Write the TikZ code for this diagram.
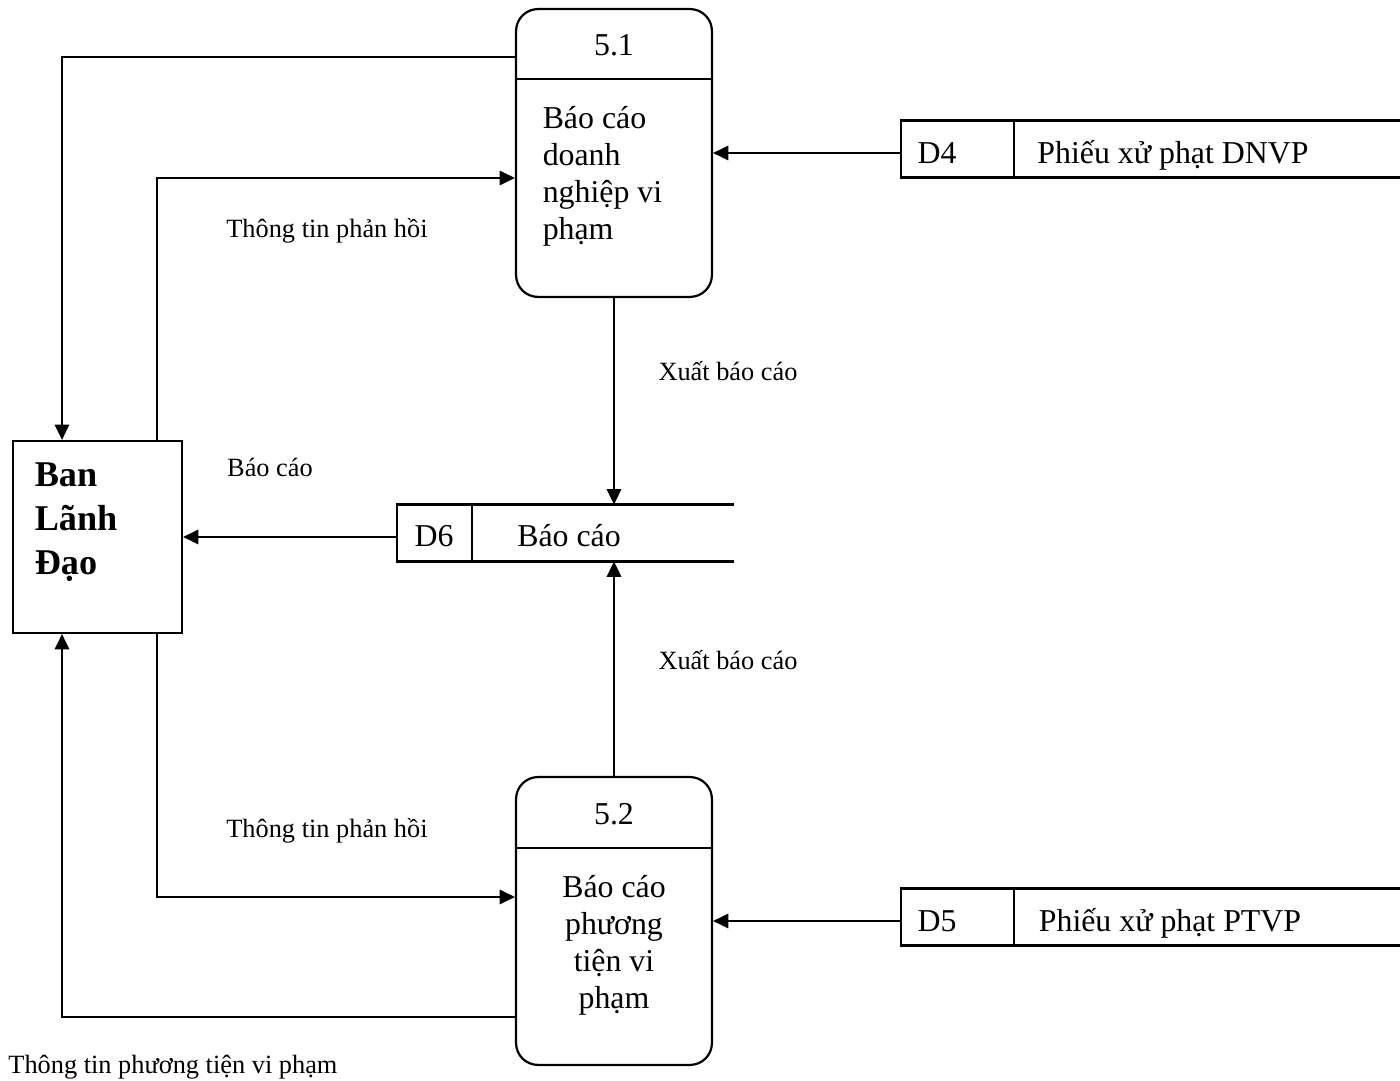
\documentclass[tikz,border=0pt]{standalone}
\usepackage{fontspec}
\setmainfont{Liberation Serif}
\usetikzlibrary{arrows.meta,calc,positioning}

\begin{document}
\begin{tikzpicture}[x=0.016cm,y=-0.016cm]
        \tikzset{
            process/.style = {rectangle, rounded corners=10pt, line width=1pt, minimum width=89.2pt, minimum height=131.1pt, draw=black},
            entity/.style = {rectangle, line width=1pt, minimum width=76.9pt, minimum height=87.4pt, draw=black},
            store/.style = {rectangle, minimum height=25.5pt, inner sep=0pt},
            line/.style = {line width=1pt},
            bodytext/.style = {font=\fontsize{14.5}{16.8}\selectfont},
            flowlabel/.style = {font=\fontsize{12}{14}\selectfont, inner sep=0pt},
            arrow/.style = {line width=1.1pt,-{Triangle[length=7pt,width=6.5pt]}}
        }
        \useasboundingbox (0,0) rectangle (1400,1081);

        % external entity
        \node (ban) [entity] at (97.5,537) {};
        \node (banText) [anchor=west, align=left, font=\fontsize{16.5}{20}\selectfont\bfseries] at (27,522) {Ban\\Lãnh\\Đạo};

        % processes
        \node (proc51) [process] at (614,153) {};
        \draw [line] ($(proc51.north west)+(0,71)$) -- ($(proc51.north east)+(0,71)$);
        \node (num51) [bodytext, anchor=base] at (614,56) {5.1};
        \node (txt51) [bodytext, anchor=west, align=left] at (535,176) {Báo cáo\\doanh\\nghiệp vi\\phạm};

        \node (proc52) [process] at (614,921) {};
        \draw [line] ($(proc52.north west)+(0,72)$) -- ($(proc52.north east)+(0,72)$);
        \node (num52) [bodytext, anchor=base] at (614,824) {5.2};
        \node (txt52) [bodytext, align=center] at (614,945) {Báo cáo\\phương\\tiện vi\\phạm};

        % data stores
        \node (d4) [store, minimum width=227.2pt] at (1150.5,149) {};
        \draw [line] (d4.north east) -- (d4.north west) -- (d4.south west) -- (d4.south east);
        \draw [line] ($(d4.north west)+(113,0)$) -- ($(d4.south west)+(113,0)$);
        \node (d4Id) [bodytext, anchor=base] at (937,164) {D4};
        \node (d4Name) [bodytext, anchor=base] at (1173,164) {Phiếu xử phạt DNVP};

        \node (d5) [store, minimum width=227.2pt] at (1150.5,917) {};
        \draw [line] (d5.north east) -- (d5.north west) -- (d5.south west) -- (d5.south east);
        \draw [line] ($(d5.north west)+(113,0)$) -- ($(d5.south west)+(113,0)$);
        \node (d5Id) [bodytext, anchor=base] at (937,931) {D5};
        \node (d5Name) [bodytext, anchor=base] at (1170,931) {Phiếu xử phạt PTVP};

        \node (d6) [store, minimum width=153.4pt] at (565.5,533) {};
        \draw [line] (d6.north east) -- (d6.north west) -- (d6.south west) -- (d6.south east);
        \draw [line] ($(d6.north west)+(75,0)$) -- ($(d6.south west)+(75,0)$);
        \node (d6Id) [bodytext, anchor=base] at (434,547) {D6};
        \node (d6Name) [bodytext, anchor=base] at (569,547) {Báo cáo};

        % flows
        \draw [arrow] (proc51.west |- 0,57) -| (ban.north -| 62,0);
        \draw [arrow] (ban.north -| 157,0) |- (proc51.west |- 0,178);
        \draw [arrow] (d4.west |- proc51.east) -- (proc51.east);
        \draw [arrow] (proc51.south) -- (proc51.south |- d6.north);
        \draw [arrow] (d6.west |- ban.east) -- (ban.east);
        \draw [arrow] (proc52.north) -- (proc52.north |- d6.south);
        \draw [arrow] (ban.south -| 157,0) |- (proc52.west |- 0,897);
        \draw [arrow] (proc52.west |- 0,1017) -| (ban.south -| 62,0);
        \draw [arrow] (d5.west |- proc52.east) -- (proc52.east);

        % flow labels
        \node (lbFeedback1) [flowlabel, anchor=base] at (327,238) {Thông tin phản hồi};
        \node (lbExport1) [flowlabel, anchor=base] at (728,381) {Xuất báo cáo};
        \node (lbReport) [flowlabel, anchor=base] at (270,477) {Báo cáo};
        \node (lbExport2) [flowlabel, anchor=base] at (728,670) {Xuất báo cáo};
        \node (lbFeedback2) [flowlabel, anchor=base] at (327,837) {Thông tin phản hồi};
        \node (lbVehicle) [flowlabel, anchor=base west] at (8,1073) {Thông tin phương tiện vi phạm};

    \end{tikzpicture}
\end{document}
